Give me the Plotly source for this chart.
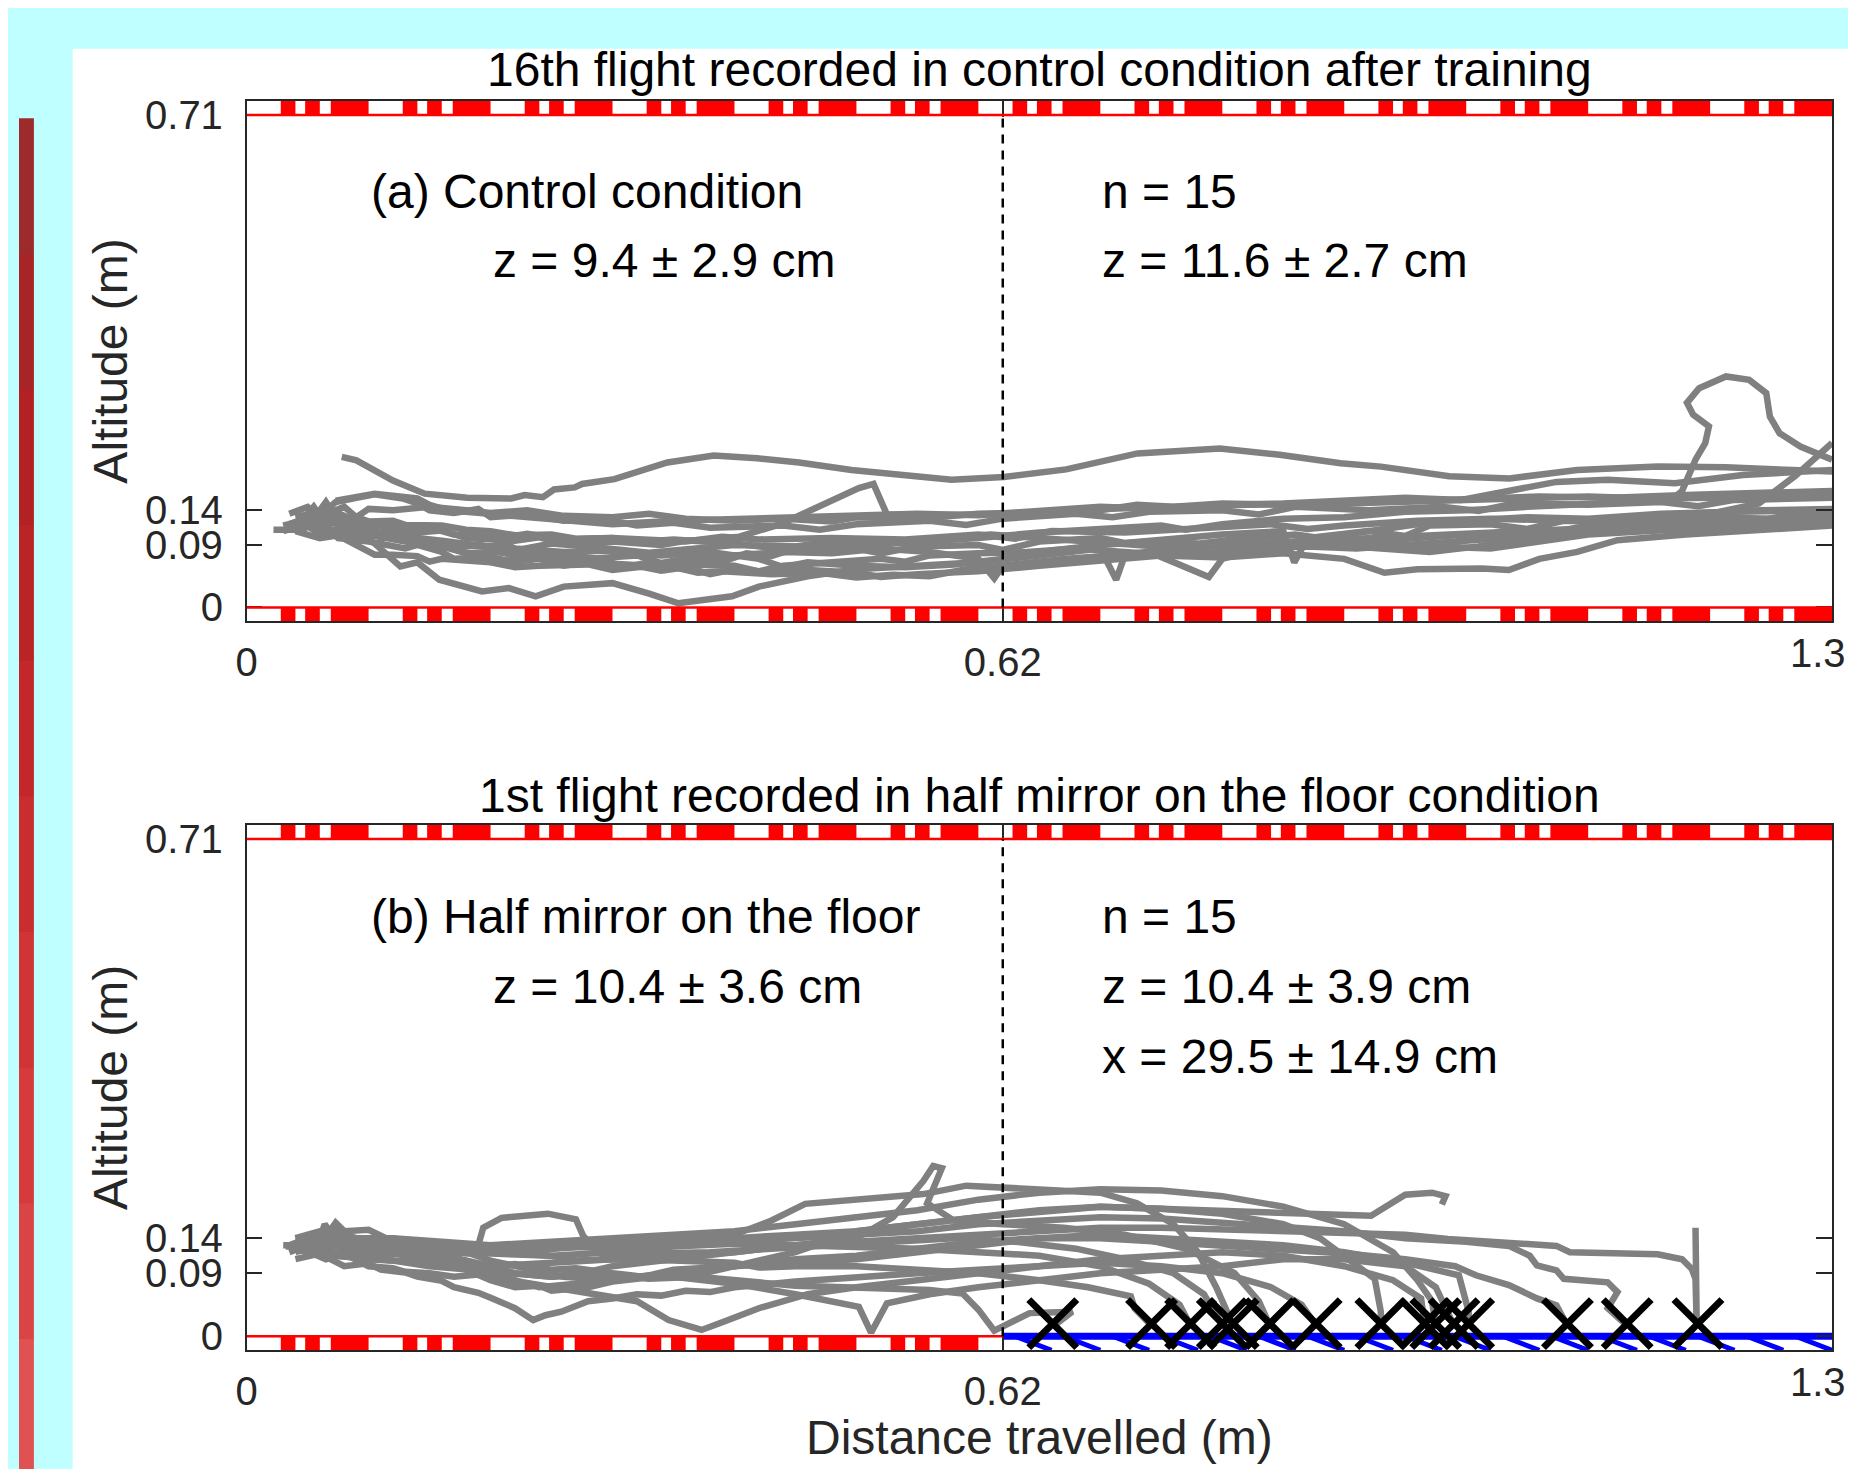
import plotly.graph_objects as go

# ---------------- data ----------------
X_RANGE = [0, 1.3]
Y_RANGE = [-0.02, 0.73]
X_TICKS = [0, 0.62, 1.3]
X_TICK_TEXT = ["0", "0.62", "1.3"]
Y_TICKS = [0, 0.09, 0.14, 0.71]
Y_TICK_TEXT = ["0", "0.09", "0.14", "0.71"]
MIRROR_START = 0.62
WALL_Y = 0.71
FLOOR_Y = 0.0
STRIP_H = 0.02

# texture pattern on walls (red pieces within each 0.1 m period)
STRIPE_PERIOD = 0.1
STRIPE_RED = [(0.028, 0.040), (0.048, 0.060), (0.069, 0.100)]
N_PERIODS = 13
# hatch marks under the mirror
HATCH_X0 = [0.63, 0.67, 0.71, 0.75, 0.79, 0.83, 0.87, 0.91, 0.95, 0.99,
            1.03, 1.07, 1.11, 1.15, 1.19, 1.23, 1.27]
HATCH_W = 0.03

# landing points (half mirror condition)
LAND_X = [0.661, 0.742, 0.774, 0.800, 0.809, 0.839, 0.877, 0.930, 0.966,
          0.975, 0.990, 1.002, 1.083, 1.132, 1.190]
LAND_Y = [0.018] * 15

TITLE_A = "16th flight recorded in control condition after training"
TITLE_B = "1st flight recorded in half mirror on the floor condition"
TEXT_A = [("(a) Control condition", 0.1, 0.6), ("z = 9.4 \u00b1 2.9 cm", 0.2, 0.5),
          ("n = 15", 0.7, 0.6), ("z = 11.6 \u00b1 2.7 cm", 0.7, 0.5)]
TEXT_B = [("(b) Half mirror on the floor", 0.1, 0.6), ("z = 10.4 \u00b1 3.6 cm", 0.2, 0.5),
          ("n = 15", 0.7, 0.6), ("z = 10.4 \u00b1 3.9 cm", 0.7, 0.5),
          ("x = 29.5 \u00b1 14.9 cm", 0.7, 0.4)]

# ---- panel (a) trajectories: (distance, altitude) ----
A01 = [(0.078,0.217),(0.09,0.212),(0.12,0.183),(0.146,0.164),(0.181,0.158),(0.217,0.157),(0.228,0.162),
       (0.243,0.159),(0.252,0.17),(0.269,0.173),(0.275,0.178),(0.3015,0.185),(0.345,0.209),(0.383,0.219),
       (0.4186,0.215),(0.453,0.209),(0.496,0.198),(0.578,0.184),(0.621,0.188),(0.672,0.199),(0.7305,0.222),
       (0.798,0.229),(0.847,0.22),(0.897,0.208),(0.93,0.203),(0.986,0.189),(1.0355,0.186),(1.091,0.198),
       (1.157,0.203),(1.213,0.202),(1.268,0.198),(1.30,0.196)]
A02 = [(0.03,0.118),(0.045,0.125),(0.055,0.112),(0.07,0.14),(0.085,0.128),(0.11,0.1),(0.13,0.104),(0.15,0.095),
       (0.17,0.09),(0.2,0.088),(0.22,0.082),(0.25,0.092),(0.28,0.088),(0.3,0.085),(0.33,0.079),(0.35,0.082),
       (0.4,0.09),(0.45,0.088),(0.48,0.095),(0.5,0.095),(0.55,0.092),(0.58,0.098),(0.6,0.1),(0.65,0.108),
       (0.7,0.112),(0.75,0.118),(0.77,0.112),(0.8,0.12),(0.85,0.128),(0.9,0.13),(0.95,0.138),(1.0,0.14),
       (1.05,0.145),(1.1,0.15),(1.168,0.155),(1.177,0.168),(1.188,0.213),(1.196,0.237),(1.199,0.261),
       (1.186,0.278),(1.181,0.295),(1.191,0.316),(1.213,0.333),(1.232,0.328),(1.246,0.309),(1.249,0.275),
       (1.257,0.251),(1.274,0.232),(1.30,0.213)]
A03 = [(0.04,0.13),(0.06,0.138),(0.072,0.125),(0.1,0.115),(0.12,0.12),(0.14,0.108),(0.16,0.111),(0.18,0.1),
       (0.22,0.096),(0.24,0.101),(0.26,0.092),(0.3,0.095),(0.34,0.09),(0.36,0.096),(0.38,0.098),(0.404,0.102),
       (0.4377,0.12),(0.47,0.145),(0.502,0.172),(0.514,0.178),(0.525,0.134),(0.56,0.133),(0.593,0.133),
       (0.64,0.135),(0.7,0.142),(0.76,0.146),(0.82,0.148),(0.88,0.15),(0.94,0.152),(1.0,0.156),(1.06,0.16),
       (1.12,0.158),(1.18,0.162),(1.24,0.164),(1.3,0.168)]
A04 = [(0.035,0.12),(0.05,0.13),(0.065,0.118),(0.08,0.128),(0.1,0.12),(0.13,0.11),(0.15,0.115),(0.17,0.105),
       (0.21,0.1),(0.23,0.106),(0.26,0.098),(0.3,0.1),(0.36,0.095),(0.39,0.102),(0.42,0.098),(0.48,0.1),
       (0.54,0.098),(0.6,0.105),(0.63,0.099),(0.66,0.11),(0.72,0.108),(0.78,0.115),(0.84,0.12),(0.87,0.113),
       (0.9,0.118),(0.96,0.125),(1.02,0.128),(1.08,0.125),(1.14,0.13),(1.2,0.135),(1.24,0.15),(1.27,0.19),
       (1.3,0.237)]
A05 = [(0.073,0.154),(0.105,0.164),(0.14,0.157),(0.15,0.148),(0.165,0.14),(0.2,0.135),(0.25,0.128),(0.3,0.12),
       (0.35,0.125),(0.4,0.128),(0.45,0.13),(0.5,0.132),(0.55,0.135),(0.6,0.133),(0.65,0.14),(0.7,0.145),
       (0.75,0.142),(0.8,0.148),(0.85,0.15),(0.9,0.155),(0.95,0.158),(0.996,0.155),(1.04,0.17),
       (1.074,0.181),(1.116,0.184),(1.171,0.179),(1.227,0.191),(1.3,0.198)]
A06 = [(0.06,0.13),(0.075,0.12),(0.082,0.097),(0.105,0.076),(0.12,0.076),(0.14,0.074),(0.15,0.066),(0.16,0.07),
       (0.2,0.065),(0.22,0.058),(0.24,0.06),(0.28,0.062),(0.3,0.054),(0.32,0.058),(0.36,0.062),(0.4,0.06),
       (0.42,0.052),(0.45,0.055),(0.5,0.05),(0.52,0.044),(0.55,0.048),(0.6,0.052),(0.65,0.06),(0.7,0.068),
       (0.75,0.075),(0.8,0.072),(0.85,0.078),(0.9,0.07),(0.933,0.05),(0.96,0.055),(1.013,0.056),(1.035,0.054),
       (1.06,0.07),(1.091,0.08),(1.124,0.097),(1.18,0.105),(1.24,0.112),(1.3,0.118)]
A07 = [(0.03,0.11),(0.05,0.12),(0.07,0.105),(0.1,0.1),(0.126,0.059),(0.14,0.065),(0.158,0.04),(0.176,0.03),
       (0.193,0.023),(0.215,0.028),(0.237,0.016),(0.26,0.03),(0.3,0.035),(0.33,0.02),(0.354,0.006),
       (0.398,0.016),(0.42,0.03),(0.46,0.045),(0.5,0.055),(0.55,0.06),(0.6,0.065),(0.65,0.075),(0.7,0.085),
       (0.713,0.04),(0.72,0.075),(0.76,0.085),(0.8,0.09),(0.86,0.095),(0.92,0.1),(0.98,0.105),(1.04,0.11),
       (1.1,0.115),(1.16,0.12),(1.22,0.125),(1.3,0.13)]
A08 = [(0.04,0.125),(0.06,0.108),(0.08,0.115),(0.1,0.105),(0.13,0.095),(0.16,0.088),(0.18,0.078),(0.2,0.08),
       (0.24,0.075),(0.26,0.066),(0.28,0.07),(0.32,0.075),(0.34,0.064),(0.36,0.07),(0.4,0.075),(0.44,0.08),
       (0.48,0.078),(0.52,0.085),(0.56,0.08),(0.6,0.07),(0.613,0.042),(0.62,0.06),(0.68,0.07),(0.74,0.08),
       (0.789,0.044),(0.8,0.07),(0.84,0.09),(0.88,0.1),(0.92,0.11),(0.96,0.12),(1.0,0.125),(1.05,0.13),
       (1.1,0.128),(1.16,0.135),(1.22,0.138),(1.3,0.14)]
A09 = [(0.022,0.112),(0.047,0.112),(0.05,0.122),(0.055,0.128),(0.058,0.115),(0.062,0.135),(0.065,0.11),
       (0.07,0.125),(0.075,0.118),(0.09,0.13),(0.1,0.124),(0.12,0.125),(0.13,0.119),(0.16,0.118),(0.18,0.112),
       (0.2,0.11),(0.22,0.104),(0.25,0.105),(0.27,0.099),(0.3,0.1),(0.32,0.094),(0.35,0.098),(0.4,0.092),
       (0.43,0.086),(0.45,0.088),(0.5,0.085),(0.52,0.078),(0.55,0.088),(0.6,0.09),(0.62,0.083),(0.65,0.095),
       (0.7,0.1),(0.72,0.093),(0.75,0.098),(0.8,0.105),(0.85,0.11),(0.859,0.065),(0.87,0.1),(0.92,0.11),
       (0.95,0.103),(0.97,0.118),(1.02,0.12),(1.05,0.113),(1.08,0.125),(1.14,0.122),(1.2,0.128),(1.23,0.121),
       (1.26,0.132),(1.3,0.135)]
A10 = [(0.05,0.135),(0.055,0.145),(0.06,0.132),(0.073,0.152),(0.09,0.158),(0.105,0.163),(0.128,0.157),
       (0.14,0.15),(0.15,0.14),(0.17,0.136),(0.19,0.142),(0.2,0.13),(0.23,0.134),(0.26,0.125),(0.29,0.128),
       (0.32,0.118),(0.35,0.122),(0.38,0.115),(0.44,0.118),(0.47,0.112),(0.5,0.12),(0.56,0.125),(0.59,0.119),
       (0.62,0.128),(0.68,0.135),(0.71,0.13),(0.74,0.138),(0.8,0.14),(0.83,0.134),(0.86,0.145),(0.92,0.14),
       (0.98,0.145),(1.01,0.139),(1.04,0.15),(1.1,0.148),(1.16,0.152),(1.19,0.146),(1.22,0.155),(1.3,0.158)]
A11 = [(0.035,0.135),(0.05,0.145),(0.06,0.13),(0.07,0.137),(0.08,0.12),(0.09,0.124),(0.1,0.11),(0.12,0.106),
       (0.13,0.112),(0.14,0.1),(0.16,0.096),(0.18,0.092),(0.2,0.087),(0.21,0.093),(0.22,0.085),(0.26,0.08),
       (0.3,0.082),(0.34,0.075),(0.38,0.08),(0.42,0.07),(0.44,0.058),(0.46,0.065),(0.5,0.06),(0.54,0.058),
       (0.58,0.062),(0.62,0.07),(0.66,0.082),(0.7,0.09),(0.74,0.095),(0.78,0.092),(0.82,0.1),(0.86,0.105),
       (0.9,0.095),(0.94,0.09),(0.98,0.088),(1.02,0.085),(1.06,0.095),(1.1,0.105),(1.15,0.11),(1.2,0.115),
       (1.25,0.12),(1.3,0.125)]
A12 = [(0.04,0.11),(0.06,0.1),(0.09,0.108),(0.12,0.1),(0.15,0.095),(0.17,0.086),(0.19,0.09),(0.23,0.08),
       (0.27,0.072),(0.29,0.064),(0.31,0.062),(0.35,0.058),(0.37,0.05),(0.39,0.052),(0.43,0.048),(0.47,0.05),
       (0.5,0.043),(0.53,0.047),(0.56,0.045),(0.59,0.055),(0.63,0.062),(0.67,0.07),(0.71,0.075),(0.75,0.08),
       (0.79,0.078),(0.83,0.085),(0.87,0.088),(0.91,0.085),(0.95,0.09),(0.99,0.095),(1.03,0.1),(1.07,0.105),
       (1.11,0.11),(1.15,0.118),(1.2,0.122),(1.25,0.128),(1.3,0.135)]
A13 = [(0.05,0.12),(0.07,0.135),(0.08,0.11),(0.11,0.105),(0.14,0.1),(0.15,0.09),(0.17,0.085),(0.19,0.091),
       (0.21,0.08),(0.23,0.068),(0.25,0.078),(0.27,0.074),(0.29,0.07),(0.31,0.058),(0.33,0.065),(0.35,0.061),
       (0.37,0.07),(0.39,0.066),(0.41,0.078),(0.43,0.074),(0.45,0.085),(0.49,0.09),(0.51,0.085),(0.53,0.095),
       (0.57,0.1),(0.61,0.105),(0.65,0.1),(0.69,0.095),(0.73,0.09),(0.77,0.085),(0.81,0.09),(0.85,0.095),
       (0.89,0.09),(0.93,0.085),(0.97,0.08),(1.01,0.088),(1.05,0.1),(1.09,0.115),(1.13,0.125),(1.18,0.135),
       (1.24,0.14),(1.3,0.142)]
A14 = [(0.06,0.14),(0.065,0.152),(0.07,0.138),(0.08,0.145),(0.09,0.13),(0.1,0.142),(0.12,0.14),(0.15,0.145),
       (0.18,0.14),(0.2,0.136),(0.23,0.14),(0.26,0.132),(0.3,0.13),(0.33,0.135),(0.36,0.128),(0.4,0.125),
       (0.44,0.128),(0.48,0.124),(0.5,0.13),(0.55,0.128),(0.6,0.135),(0.65,0.138),(0.7,0.14),(0.73,0.148),
       (0.76,0.145),(0.8,0.15),(0.85,0.148),(0.9,0.15),(0.95,0.153),(1.0,0.155),(1.05,0.158),(1.1,0.16),
       (1.15,0.157),(1.2,0.158),(1.25,0.161),(1.3,0.16)]
A15 = [(0.045,0.118),(0.06,0.125),(0.075,0.1),(0.1,0.095),(0.13,0.085),(0.14,0.09),(0.16,0.08),(0.17,0.07),
       (0.2,0.072),(0.22,0.066),(0.24,0.07),(0.26,0.06),(0.28,0.065),(0.3,0.057),(0.32,0.06),(0.34,0.053),
       (0.36,0.058),(0.38,0.048),(0.4,0.055),(0.42,0.052),(0.44,0.06),(0.48,0.065),(0.52,0.07),(0.54,0.066),
       (0.56,0.075),(0.6,0.078),(0.64,0.08),(0.68,0.085),(0.72,0.08),(0.76,0.075),(0.8,0.08),(0.84,0.085),
       (0.88,0.09),(0.92,0.095),(0.96,0.1),(1.0,0.105),(1.04,0.1),(1.08,0.11),(1.12,0.118),(1.16,0.125),
       (1.2,0.13),(1.25,0.128),(1.3,0.13)]
PANEL_A = [A01, A02, A03, A04, A05, A06, A07, A08, A09, A10, A11, A12, A13, A14, A15]

# ---- panel (b) trajectories ----
B01 = [(0.032,0.128),(0.048,0.128),(0.055,0.12),(0.062,0.135),(0.07,0.115),(0.09,0.112),(0.12,0.108),
       (0.15,0.1),(0.18,0.095),(0.21,0.09),(0.25,0.085),(0.29,0.088),(0.33,0.082),(0.37,0.085),(0.41,0.078),
       (0.45,0.072),(0.49,0.07),(0.53,0.068),(0.56,0.066),(0.587,0.061),(0.6,0.038),(0.613,0.008),
       (0.642,0.033),(0.677,0.035),(0.662,0.015)]
B02 = [(0.035,0.13),(0.05,0.14),(0.058,0.128),(0.064,0.16),(0.07,0.145),(0.075,0.152),(0.085,0.14),
       (0.1,0.135),(0.11,0.142),(0.13,0.13),(0.16,0.125),(0.18,0.118),(0.2,0.12),(0.25,0.115),(0.27,0.108),
       (0.3,0.11),(0.35,0.108),(0.4,0.105),(0.42,0.098),(0.45,0.1),(0.5,0.1),(0.55,0.095),(0.6,0.09),
       (0.65,0.08),(0.69,0.07),(0.725,0.057),(0.728,0.04),(0.742,0.015)]
B03 = [(0.04,0.12),(0.06,0.13),(0.073,0.162),(0.08,0.15),(0.1,0.152),(0.126,0.13),(0.15,0.125),(0.2,0.118),
       (0.25,0.115),(0.3,0.12),(0.35,0.128),(0.4,0.132),(0.45,0.13),(0.5,0.128),(0.55,0.125),(0.6,0.12),
       (0.65,0.115),(0.7,0.1),(0.74,0.075),(0.765,0.045),(0.774,0.015)]
B04 = [(0.04,0.13),(0.06,0.14),(0.08,0.125),(0.11,0.12),(0.15,0.115),(0.18,0.12),(0.19,0.13),(0.194,0.155),
       (0.209,0.169),(0.247,0.175),(0.27,0.167),(0.276,0.143),(0.291,0.117),(0.33,0.118),(0.38,0.12),
       (0.43,0.125),(0.48,0.13),(0.53,0.135),(0.58,0.14),(0.63,0.135),(0.68,0.125),(0.72,0.11),(0.76,0.09),
       (0.785,0.06),(0.8,0.015)]
B05 = [(0.03,0.13),(0.06,0.13),(0.1,0.125),(0.15,0.12),(0.2,0.12),(0.25,0.125),(0.3,0.13),(0.35,0.135),
       (0.4,0.145),(0.43,0.165),(0.458,0.189),(0.5,0.195),(0.555,0.203),(0.59,0.215),(0.642,0.21),(0.7,0.205),
       (0.73,0.19),(0.76,0.16),(0.78,0.12),(0.795,0.07),(0.809,0.015)]
B06 = [(0.035,0.125),(0.06,0.118),(0.1,0.11),(0.15,0.105),(0.2,0.1),(0.25,0.105),(0.3,0.11),(0.35,0.115),
       (0.4,0.12),(0.45,0.13),(0.5,0.14),(0.53,0.17),(0.555,0.222),(0.563,0.243),(0.57,0.24),(0.558,0.19),
       (0.58,0.165),(0.62,0.16),(0.67,0.155),(0.72,0.145),(0.77,0.125),(0.81,0.09),(0.83,0.05),(0.839,0.015)]
B07 = [(0.04,0.11),(0.06,0.118),(0.08,0.1),(0.1,0.104),(0.11,0.095),(0.13,0.091),(0.14,0.085),(0.16,0.079),
       (0.17,0.07),(0.19,0.062),(0.2,0.055),(0.22,0.04),(0.235,0.023),(0.245,0.03),(0.258,0.035),(0.28,0.05),
       (0.3,0.054),(0.32,0.06),(0.34,0.058),(0.36,0.065),(0.38,0.063),(0.4,0.07),(0.45,0.078),(0.5,0.085),
       (0.55,0.09),(0.6,0.095),(0.65,0.1),(0.7,0.105),(0.75,0.1),(0.8,0.09),(0.84,0.07),(0.865,0.045),
       (0.877,0.015)]
B08 = [(0.04,0.13),(0.05,0.138),(0.06,0.125),(0.07,0.148),(0.08,0.14),(0.1,0.135),(0.12,0.14),(0.15,0.13),
       (0.2,0.13),(0.22,0.122),(0.25,0.125),(0.3,0.135),(0.35,0.14),(0.4,0.14),(0.45,0.145),(0.5,0.15),
       (0.55,0.16),(0.6,0.17),(0.65,0.18),(0.7,0.185),(0.75,0.182),(0.8,0.175),(0.85,0.16),(0.88,0.14),
       (0.91,0.1),(0.925,0.082),(0.93,0.035),(0.93,0.015)]
B09 = [(0.045,0.125),(0.065,0.11),(0.08,0.118),(0.1,0.1),(0.12,0.097),(0.13,0.092),(0.15,0.09),(0.17,0.085),
       (0.19,0.088),(0.21,0.08),(0.23,0.076),(0.25,0.07),(0.27,0.066),(0.29,0.06),(0.32,0.05),(0.346,0.023),
       (0.36,0.015),(0.373,0.009),(0.39,0.02),(0.42,0.04),(0.46,0.06),(0.5,0.07),(0.55,0.08),(0.6,0.09),
       (0.65,0.1),(0.7,0.11),(0.75,0.115),(0.8,0.12),(0.85,0.115),(0.9,0.1),(0.94,0.08),(0.963,0.054),
       (0.966,0.015)]
B10 = [(0.045,0.135),(0.07,0.15),(0.09,0.14),(0.12,0.14),(0.16,0.135),(0.2,0.13),(0.25,0.135),(0.3,0.14),
       (0.35,0.145),(0.4,0.15),(0.45,0.16),(0.5,0.17),(0.55,0.18),(0.6,0.195),(0.65,0.205),(0.7,0.21),
       (0.75,0.208),(0.8,0.2),(0.85,0.185),(0.9,0.16),(0.94,0.12),(0.96,0.08),(0.972,0.05),(0.975,0.015)]
B11 = [(0.05,0.13),(0.07,0.14),(0.09,0.125),(0.1,0.129),(0.12,0.12),(0.14,0.116),(0.16,0.11),(0.18,0.106),
       (0.2,0.1),(0.22,0.103),(0.25,0.095),(0.27,0.097),(0.3,0.09),(0.32,0.086),(0.35,0.085),(0.4,0.075),
       (0.45,0.06),(0.48,0.05),(0.502,0.042),(0.512,0.005),(0.525,0.047),(0.56,0.06),(0.6,0.07),(0.65,0.08),
       (0.7,0.09),(0.75,0.095),(0.8,0.1),(0.85,0.11),(0.9,0.11),(0.95,0.1),(0.975,0.07),(0.99,0.015)]
B12 = [(0.04,0.14),(0.06,0.15),(0.065,0.136),(0.08,0.135),(0.1,0.13),(0.12,0.122),(0.14,0.128),(0.18,0.12),
       (0.2,0.108),(0.22,0.1),(0.24,0.092),(0.26,0.085),(0.3,0.08),(0.33,0.087),(0.35,0.095),(0.4,0.1),
       (0.45,0.105),(0.5,0.11),(0.55,0.12),(0.6,0.13),(0.65,0.14),(0.7,0.145),(0.75,0.14),(0.8,0.135),
       (0.85,0.13),(0.9,0.12),(0.95,0.105),(0.994,0.087),(1.002,0.035),(1.002,0.015)]
B13 = [(0.035,0.12),(0.05,0.13),(0.07,0.12),(0.1,0.115),(0.12,0.118),(0.15,0.11),(0.17,0.1),(0.18,0.095),
       (0.2,0.08),(0.22,0.07),(0.24,0.072),(0.25,0.065),(0.28,0.07),(0.3,0.078),(0.32,0.082),(0.35,0.09),
       (0.37,0.088),(0.4,0.1),(0.45,0.11),(0.5,0.115),(0.55,0.125),(0.6,0.135),(0.65,0.14),(0.7,0.14),
       (0.75,0.135),(0.8,0.13),(0.85,0.125),(0.9,0.118),(0.95,0.11),(0.991,0.1),(1.008,0.087),(1.035,0.073),
       (1.058,0.054),(1.074,0.044),(1.083,0.015)]
B14 = [(0.04,0.125),(0.055,0.14),(0.07,0.13),(0.1,0.125),(0.15,0.12),(0.2,0.125),(0.25,0.13),(0.3,0.125),
       (0.35,0.13),(0.4,0.135),(0.45,0.14),(0.5,0.145),(0.55,0.15),(0.6,0.16),(0.65,0.165),(0.7,0.17),
       (0.75,0.168),(0.8,0.162),(0.85,0.155),(0.9,0.15),(0.95,0.14),(1.0,0.135),(1.035,0.129),(1.052,0.115),
       (1.058,0.101),(1.074,0.094),(1.08,0.082),(1.116,0.077),(1.124,0.063),(1.116,0.04),(1.132,0.015)]
B15 = [(0.04,0.13),(0.06,0.12),(0.08,0.135),(0.1,0.13),(0.15,0.125),(0.17,0.112),(0.2,0.1),(0.22,0.09),
       (0.25,0.085),(0.28,0.092),(0.3,0.1),(0.35,0.11),(0.4,0.12),(0.45,0.13),(0.5,0.135),(0.55,0.14),
       (0.6,0.145),(0.65,0.15),(0.7,0.155),(0.75,0.155),(0.8,0.152),(0.85,0.15),(0.9,0.148),(0.95,0.145),
       (0.985,0.139),(1.03,0.134),(1.074,0.129),(1.085,0.12),(1.12,0.118),(1.157,0.117),(1.177,0.11),
       (1.185,0.096),(1.188,0.082),(1.189,0.015),(1.188,0.155)]
B16 = [(0.04,0.14),(0.1,0.14),(0.14,0.12),(0.18,0.1),(0.21,0.085),(0.24,0.07),(0.27,0.075),(0.3,0.08),
       (0.35,0.09),(0.4,0.1),(0.45,0.12),(0.5,0.15),(0.6,0.17),(0.7,0.185),(0.8,0.18),
       (0.88,0.175),(0.922,0.172),(0.95,0.202),(0.972,0.205),(0.983,0.2),(0.98,0.188)]
PANEL_B = [B01, B02, B03, B04, B05, B06, B07, B08, B09, B10, B11, B12, B13, B14, B15, B16]

# ---------------- figure ----------------
# kept a little smaller than the window so the page never overflows (body margin is 8 px)
W, H = 1840, 1461
OFF = 8  # page offset of the figure


def px(v):
    return (v - OFF) / W


def py(v):
    return 1 - (v - OFF) / H


# window-pixel frame of the two axes boxes
AX_L, AX_R = 237, 1832
A_TOP, A_BOT = 94, 620
B_TOP, B_BOT = 826, 1357
XDOM = [px(AX_L), px(AX_R)]
YDOM_A = [py(A_BOT), py(A_TOP)]
YDOM_B = [py(B_BOT), py(B_TOP)]
FONT = "Liberation Sans, Arial, Helvetica, sans-serif"
GRAY = "#808080"

fig = go.Figure()


def add_paths(paths, xa, ya):
    for p in paths:
        fig.add_trace(go.Scatter(x=[q[0] for q in p], y=[q[1] for q in p], mode="lines",
                                 line=dict(color=GRAY, width=6.5), xaxis=xa, yaxis=ya,
                                 hoverinfo="skip", showlegend=False))


add_paths(PANEL_A, "x", "y")
add_paths(PANEL_B, "x2", "y2")

# mirror line and hatches (panel b)
fig.add_trace(go.Scatter(x=[MIRROR_START, X_RANGE[1]], y=[FLOOR_Y, FLOOR_Y], mode="lines",
                         line=dict(color="#0000FF", width=7), xaxis="x2", yaxis="y2",
                         hoverinfo="skip", showlegend=False, cliponaxis=False))
hx, hy = [], []
for x0 in HATCH_X0:
    hx += [x0, x0 + HATCH_W, None]
    hy += [FLOOR_Y, Y_RANGE[0], None]
fig.add_trace(go.Scatter(x=hx, y=hy, mode="lines", line=dict(color="#0000FF", width=5),
                         xaxis="x2", yaxis="y2", hoverinfo="skip", showlegend=False))

# landing crosses
fig.add_trace(go.Scatter(x=LAND_X, y=LAND_Y, mode="markers",
                         marker=dict(symbol="x-thin", size=48, color="black",
                                     line=dict(width=7, color="black")),
                         xaxis="x2", yaxis="y2", hoverinfo="skip", showlegend=False, cliponaxis=False))

shapes = []
# background
shapes.append(dict(type="rect", xref="paper", yref="paper", x0=px(62), x1=1.01, y0=-0.01, y1=py(41),
                   fillcolor="white", line=dict(width=0), layer="below"))
RED_BAR = ["#9E2B2C", "#A82527", "#B22224", "#BA2425", "#C22829", "#C92D2E", "#D03434", "#D63B3B",
           "#DB4444", "#E05252"]
top = py(112)
seg = (top + 0.01) / len(RED_BAR)
for i, c in enumerate(RED_BAR):
    shapes.append(dict(type="rect", xref="paper", yref="paper", x0=0, x1=px(23),
                       y0=top - (i + 1) * seg, y1=top - i * seg + 0.0005,
                       fillcolor=c, line=dict(width=0), layer="below"))


def strips(xr, yr, y0, y1, xmax):
    for k in range(N_PERIODS):
        for a, b in STRIPE_RED:
            s0, s1 = k * STRIPE_PERIOD + a, k * STRIPE_PERIOD + b
            if s0 >= xmax:
                continue
            shapes.append(dict(type="rect", xref=xr, yref=yr, x0=s0, x1=min(s1, xmax), y0=y0, y1=y1,
                               fillcolor="#FF0000", line=dict(width=0), layer="above"))


for xr, yr, floor_end in [("x", "y", X_RANGE[1]), ("x2", "y2", MIRROR_START)]:
    strips(xr, yr, WALL_Y, WALL_Y + STRIP_H, X_RANGE[1])
    strips(xr, yr, FLOOR_Y - STRIP_H, FLOOR_Y, floor_end)
    shapes.append(dict(type="line", xref=xr, yref=yr, x0=0, x1=X_RANGE[1], y0=WALL_Y, y1=WALL_Y,
                       line=dict(color="#FF0000", width=2.5), layer="above"))
    shapes.append(dict(type="line", xref=xr, yref=yr, x0=0, x1=floor_end, y0=FLOOR_Y, y1=FLOOR_Y,
                       line=dict(color="#FF0000", width=2.5), layer="above"))
    shapes.append(dict(type="line", xref=xr, yref=yr, x0=MIRROR_START, x1=MIRROR_START,
                       y0=FLOOR_Y, y1=WALL_Y, line=dict(color="black", width=2.5, dash="9px,7px"),
                       layer="above"))

annotations = []
for txt, x, y in TEXT_A:
    annotations.append(dict(text=txt, x=x, y=y, xref="x", yref="y", xanchor="left", yanchor="middle",
                            showarrow=False, font=dict(family=FONT, size=48, color="black")))
for txt, x, y in TEXT_B:
    annotations.append(dict(text=txt, x=x, y=y, xref="x2", yref="y2", xanchor="left", yanchor="middle",
                            showarrow=False, font=dict(family=FONT, size=48, color="black")))
xc = (XDOM[0] + XDOM[1]) / 2
for txt, yp in [(TITLE_A, py(62)), (TITLE_B, py(796))]:
    annotations.append(dict(text=txt, x=xc, y=yp, xref="paper", yref="paper", xanchor="center",
                            yanchor="middle", showarrow=False, font=dict(family=FONT, size=48, color="black")))
annotations.append(dict(text="Distance travelled (m)", x=xc, y=0, xref="paper", yref="paper",
                        xanchor="center", yanchor="bottom", yshift=-5, showarrow=False,
                        font=dict(family=FONT, size=48, color="#262626")))
for yd in (YDOM_A, YDOM_B):
    annotations.append(dict(text="Altitude (m)", x=px(100), y=(yd[0] + yd[1]) / 2, xref="paper",
                            yref="paper", xanchor="center", yanchor="middle", textangle=-90,
                            showarrow=False, font=dict(family=FONT, size=48, color="#262626")))
# last x tick label sits at the right edge of the window (drawn as text so it is not dropped)
for ya in ("y", "y2"):
    annotations.append(dict(text=X_TICK_TEXT[-1], x=1, xref="paper", y=Y_RANGE[0], yref=ya,
                            xanchor="right", yanchor="top", yshift=-8, showarrow=False,
                            font=dict(family=FONT, size=40, color="#262626")))

axis_common = dict(ticks="inside", ticklen=16, tickwidth=1.5, tickcolor="#262626", showline=True,
                   linecolor="#262626", linewidth=1.5, mirror="ticks", showgrid=False, zeroline=False,
                   tickfont=dict(family=FONT, size=40, color="#262626"), fixedrange=True)
xax = dict(range=X_RANGE, tickmode="array", tickvals=X_TICKS, ticktext=X_TICK_TEXT[:-1] + [""],
           domain=XDOM, ticklabelstandoff=5, **axis_common)
yax = dict(range=Y_RANGE, tickmode="array", tickvals=Y_TICKS, ticktext=Y_TICK_TEXT,
           ticklabelstandoff=14, **axis_common)

fig.update_layout(
    width=W, height=H, margin=dict(l=0, r=0, t=0, b=0),
    paper_bgcolor="#C0FFFF", plot_bgcolor="white", showlegend=False,
    xaxis=dict(anchor="y", **xax), yaxis=dict(anchor="x", domain=YDOM_A, **yax),
    xaxis2=dict(anchor="y2", **xax), yaxis2=dict(anchor="x2", domain=YDOM_B, **yax),
    shapes=shapes, annotations=annotations,
)

fig.write_html("out.html")
